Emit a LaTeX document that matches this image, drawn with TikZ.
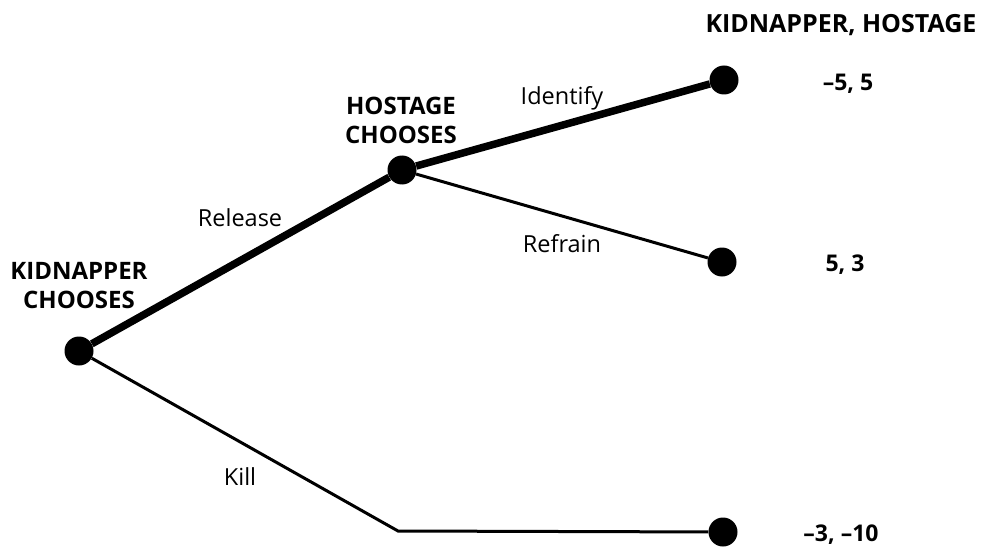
\documentclass[tikz,border=0pt]{standalone}
\usepackage{fontspec}
\setmainfont{Open Sans}
\begin{document}
\begin{tikzpicture}[x=1pt,y=-1pt,
  dot/.style={circle,fill=black,inner sep=0pt,minimum size=29pt},
  thickedge/.style={line width=7.5pt},
  thinedge/.style={line width=3pt},
  lab/.style={font=\fontsize{23.5}{26}\selectfont,inner sep=0pt},
  who/.style={font=\fontsize{24}{29}\selectfont\bfseries,inner sep=0pt,align=center},
  pay/.style={font=\fontsize{23}{26}\selectfont\bfseries,inner sep=0pt}]
\useasboundingbox (0,0) rectangle (981,548);
\node[dot] (root) at (79,351) {};
\node[dot] (host) at (402,170) {};
\node[dot] (t1) at (724,80) {};
\node[dot] (t2) at (722,262) {};
\node[dot] (t3) at (723,532) {};
\coordinate (bend) at (398,531);
\draw[thickedge] (root) -- (host);
\draw[thickedge] (host) -- (t1);
\draw[thinedge] (host) -- (t2);
\draw[thinedge,line join=miter] (root) -- (bend) -- (t3);
\node[who] (kc) at (79,286) {KIDNAPPER\\CHOOSES};
\node[who] (hc) at (401,120) {HOSTAGE\\CHOOSES};
\node[who,font=\fontsize{25}{29}\selectfont\bfseries] (hdr) at (841,25) {KIDNAPPER, HOSTAGE};
\node[lab,anchor=base] (lrel) at (240,226) {Release};
\node[lab,anchor=base] (lid) at (562,105) {Identify};
\node[lab,anchor=base] (lref) at (562,252) {Refrain};
\node[lab,anchor=base] (lkill) at (240,485) {Kill};
\node[pay,anchor=base] (p1) at (848,91) {–5, 5};
\node[pay,anchor=base] (p2) at (845,271) {5, 3};
\node[pay,anchor=base] (p3) at (841,541) {–3, –10};
\end{tikzpicture}
\end{document}
